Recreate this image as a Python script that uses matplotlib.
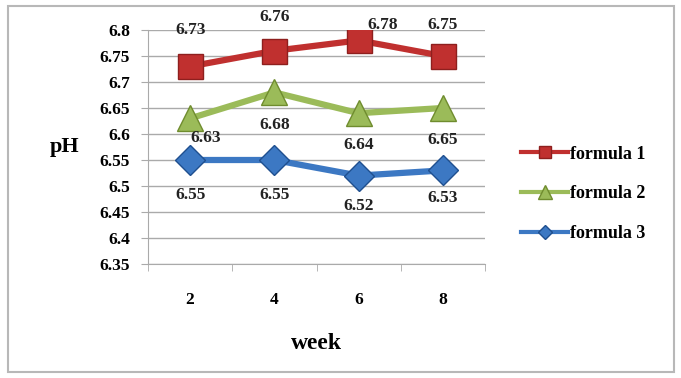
import matplotlib
matplotlib.use('Agg')
import matplotlib.pyplot as plt
from matplotlib.patches import Rectangle

weeks = ['2', '4', '6', '8']
formula1 = [6.73, 6.76, 6.78, 6.75]
formula2 = [6.63, 6.68, 6.64, 6.65]
formula3 = [6.55, 6.55, 6.52, 6.53]
yticks = [6.35, 6.4, 6.45, 6.5, 6.55, 6.6, 6.65, 6.7, 6.75, 6.8]

plt.rcParams['font.family'] = ['Liberation Serif', 'DejaVu Serif']
plt.rcParams['font.weight'] = 'bold'

fig = plt.figure(figsize=(6.81, 3.78), dpi=100)
fig.patches.append(Rectangle((8 / 681, 6 / 378), 666 / 681, 366 / 378, transform=fig.transFigure,
                             fill=False, edgecolor='#b8b8b8', lw=1.5))
ax = fig.add_axes([148 / 681, 1 - 264 / 378, 337 / 681, 234 / 378])

x = list(range(len(weeks)))
series = [
    ('formula 1', formula1, '#c0302f', '#8e1f1e', 's', 18, [(0, 36), (0, 34), (24, 15), (0, 31)]),
    ('formula 2', formula2, '#9bbb59', '#6f8c2e', '^', 19, [(16, -20), (0, -33), (0, -32), (0, -32)]),
    ('formula 3', formula3, '#3c78c3', '#1f4f8f', 'D', 15, [(0, -35), (0, -35), (0, -30), (0, -28)]),
]
for name, vals, col, edge, mk, ms, offs in series:
    ax.plot(x, vals, color=col, lw=4.5, marker=mk, ms=ms, mfc=col, mec=edge, mew=1, label=name, zorder=3)
    for xi, v, off in zip(x, vals, offs):
        ax.annotate(f'{v:.2f}', (xi, v), xytext=off, textcoords='offset pixels',
                    ha='center', va='center', fontsize=12.5, fontweight='bold', color='#222222', zorder=4)

ax.set_xlim(-0.5, 3.5)
ax.set_ylim(6.35, 6.8)
ax.set_yticks(yticks)
ax.set_yticklabels([f'{t:g}' for t in yticks])
ax.set_xticks(x)
ax.set_xticklabels(weeks)
ax.set_xticks([-0.5, 0.5, 1.5, 2.5, 3.5], minor=True)
ax.tick_params(axis='x', which='major', length=0, pad=20, labelsize=12.5)
ax.tick_params(axis='x', which='minor', length=5, color='#aaaaaa')
ax.tick_params(axis='y', length=5, color='#aaaaaa', labelsize=12.5, pad=8)
ax.yaxis.grid(True, color='#aaaaaa', lw=1)
ax.set_axisbelow(True)
for s in ['top', 'right']:
    ax.spines[s].set_visible(False)
ax.spines['left'].set_color('#aaaaaa')
ax.spines['bottom'].set_color('#aaaaaa')

ax.set_xlabel('week', fontsize=17, fontweight='bold', labelpad=18)
ax.set_ylabel('pH', fontsize=16, fontweight='bold', rotation=0, labelpad=25, va='center')

leg = ax.legend(loc='center left', bbox_to_anchor=(1.06, 0.30), frameon=False, fontsize=13,
                handlelength=2.6, handletextpad=0.1, labelspacing=1.25, markerscale=0.5)
for h in leg.legend_handles:
    h.set_linewidth(3)

fig.savefig('out.png', dpi=100)
